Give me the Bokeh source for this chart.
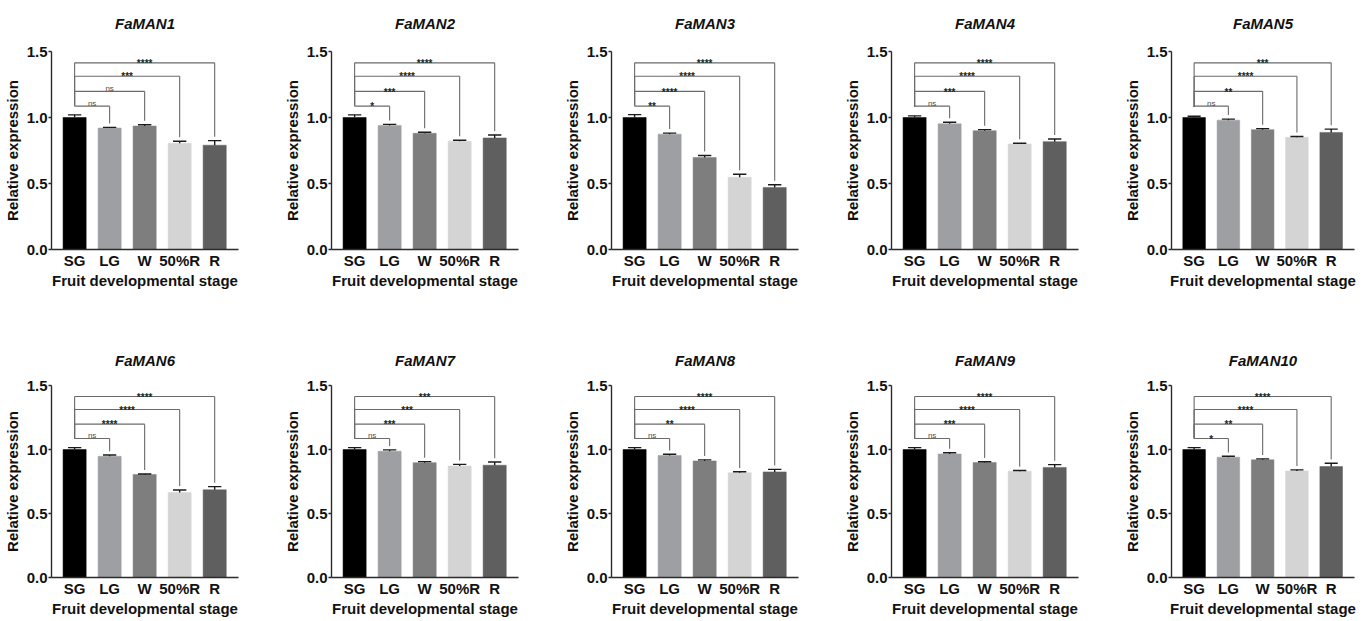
from bokeh.plotting import figure
from bokeh.layouts import row, column
from bokeh.models import FixedTicker, Range1d, PrintfTickFormatter, LinearAxis
from bokeh.core.properties import value
from bokeh.embed import file_html
from bokeh.resources import INLINE

# ---------------- data ----------------
stages = ["SG", "LG", "W", "50%R", "R"]
bar_colors = ["#000000", "#9e9fa3", "#7e7e7e", "#d4d4d4", "#5f5f5f"]
genes = ["FaMAN1", "FaMAN2", "FaMAN3", "FaMAN4", "FaMAN5",
         "FaMAN6", "FaMAN7", "FaMAN8", "FaMAN9", "FaMAN10"]

man1_mean = [1.00, 0.92, 0.935, 0.805, 0.79]
man1_err = [0.02, 0.005, 0.01, 0.015, 0.035]
man1_sig = ["ns", "ns", "***", "****"]

man2_mean = [1.00, 0.94, 0.88, 0.82, 0.845]
man2_err = [0.02, 0.008, 0.008, 0.008, 0.022]
man2_sig = ["*", "***", "****", "****"]

man3_mean = [1.00, 0.874, 0.697, 0.548, 0.47]
man3_err = [0.022, 0.008, 0.015, 0.022, 0.02]
man3_sig = ["**", "****", "****", "****"]

man4_mean = [1.00, 0.952, 0.90, 0.80, 0.817]
man4_err = [0.012, 0.012, 0.008, 0.005, 0.02]
man4_sig = ["ns", "***", "****", "****"]

man5_mean = [1.00, 0.98, 0.908, 0.85, 0.887]
man5_err = [0.01, 0.008, 0.008, 0.006, 0.025]
man5_sig = ["ns", "**", "****", "***"]

man6_mean = [1.00, 0.947, 0.805, 0.664, 0.685]
man6_err = [0.015, 0.01, 0.004, 0.02, 0.025]
man6_sig = ["ns", "****", "****", "****"]

man7_mean = [1.00, 0.987, 0.897, 0.872, 0.877]
man7_err = [0.015, 0.01, 0.008, 0.012, 0.025]
man7_sig = ["ns", "***", "***", "***"]

man8_mean = [1.00, 0.953, 0.911, 0.818, 0.825]
man8_err = [0.015, 0.01, 0.008, 0.008, 0.02]
man8_sig = ["ns", "**", "****", "****"]

man9_mean = [1.00, 0.965, 0.898, 0.83, 0.86]
man9_err = [0.015, 0.01, 0.006, 0.006, 0.022]
man9_sig = ["ns", "***", "****", "****"]

man10_mean = [1.00, 0.94, 0.919, 0.833, 0.867]
man10_err = [0.015, 0.007, 0.008, 0.008, 0.025]
man10_sig = ["*", "**", "****", "****"]

all_means = [man1_mean, man2_mean, man3_mean, man4_mean, man5_mean,
             man6_mean, man7_mean, man8_mean, man9_mean, man10_mean]
all_errs = [man1_err, man2_err, man3_err, man4_err, man5_err,
            man6_err, man7_err, man8_err, man9_err, man10_err]
all_sigs = [man1_sig, man2_sig, man3_sig, man4_sig, man5_sig,
            man6_sig, man7_sig, man8_sig, man9_sig, man10_sig]

# ---------------- style / layout ----------------
FONT = "Liberation Sans"
bracket_levels = [1.086, 1.198, 1.313, 1.414]
AXIS_COLOR = "#2b2b2b"
BAR_W = 0.66
CAP_W = 0.38
X0, X1 = -0.66, 4.68
COL_W = [280, 280, 280, 280, 236]
LEFT_B = 48


def make_panel(idx, top_row):
    gene = genes[idx]
    means = all_means[idx]
    errs = all_errs[idx]
    sigs = all_sigs[idx]
    xs = list(range(len(stages)))
    col = idx % 5
    w = COL_W[col]
    right_b = 2 if col == 4 else 42
    if top_row:
        h, mb_top, mb_bot, title_gap = 339, 51, 90, 20
    else:
        h, mb_top, mb_bot, title_gap = 280, 46, 40, 17
    p = figure(width=w, height=h,
               x_range=Range1d(X0, X1), y_range=Range1d(0, 1.5),
               output_backend="svg", toolbar_location=None,
               min_border_left=LEFT_B, min_border_right=right_b,
               min_border_top=mb_top, min_border_bottom=mb_bot)
    p.outline_line_color = None
    p.grid.visible = False
    p.background_fill_color = "white"
    p.border_fill_color = "white"

    # gene name (as an untick'd axis label above the frame)
    ta = LinearAxis(ticker=FixedTicker(ticks=[]))
    ta.axis_label = gene
    ta.axis_label_text_font = FONT
    ta.axis_label_text_font_size = "15px"
    ta.axis_label_text_font_style = "bold italic"
    ta.axis_label_text_color = "#111111"
    ta.axis_label_standoff = title_gap
    ta.axis_line_color = None
    ta.major_tick_line_color = None
    ta.minor_tick_line_color = None
    ta.major_tick_out = 0
    ta.major_tick_in = 0
    ta.minor_tick_out = 0
    ta.minor_tick_in = 0
    ta.major_label_standoff = 0
    p.add_layout(ta, "above")

    # bars
    p.vbar(x=xs, top=means, width=BAR_W, bottom=0, fill_color=bar_colors,
           line_color=bar_colors, line_width=0.5)

    # error bars (upper only)
    tops = [m + e for m, e in zip(means, errs)]
    p.segment(x0=xs, y0=means, x1=xs, y1=tops, line_color="#1a1a1a", line_width=1.4)
    p.segment(x0=[x - CAP_W / 2 for x in xs], y0=tops,
              x1=[x + CAP_W / 2 for x in xs], y1=tops,
              line_color="#1a1a1a", line_width=1.4)

    # significance brackets (SG vs each stage)
    left_end = tops[0] + 0.07
    bx0, by0, bx1, by1 = [], [], [], []
    for j, lev in enumerate(bracket_levels):
        tx = xs[j + 1]
        right_end = min(lev - 0.03, tops[j + 1] + 0.03)
        bx0.append(xs[0]); by0.append(left_end); bx1.append(xs[0]); by1.append(lev)
        bx0.append(xs[0]); by0.append(lev); bx1.append(tx); by1.append(lev)
        bx0.append(tx); by0.append(lev); bx1.append(tx); by1.append(right_end)
    p.segment(x0=bx0, y0=by0, x1=bx1, y1=by1, line_color="#6a6a6a", line_width=1.1)

    star_x, star_y, star_t = [], [], []
    ns_x, ns_y = [], []
    for j, lev in enumerate(bracket_levels):
        mid = (xs[0] + xs[j + 1]) / 2
        if sigs[j] == "ns":
            ns_x.append(mid); ns_y.append(lev + 0.022)
        else:
            star_x.append(mid); star_y.append(lev - 0.006); star_t.append(sigs[j])
    if star_x:
        p.text(x=star_x, y=star_y, text=star_t, text_font=value(FONT),
               text_font_size=value("10px"), text_font_style="bold",
               text_color="#222222", text_align="center",
               text_baseline="alphabetic")
    if ns_x:
        p.text(x=ns_x, y=ns_y, text=["ns"] * len(ns_x), text_font=value(FONT),
               text_font_size=value("8px"), text_color="#4d4d4d",
               text_align="center", text_baseline="alphabetic")

    # y axis
    ya = p.yaxis[0]
    ya.ticker = FixedTicker(ticks=[0.0, 0.5, 1.0, 1.5])
    ya.formatter = PrintfTickFormatter(format="%.1f")
    ya.axis_label = "Relative expression"
    ya.axis_label_text_font = FONT
    ya.axis_label_text_font_size = "15px"
    ya.axis_label_text_font_style = "bold"
    ya.axis_label_text_color = "#111111"
    ya.axis_label_standoff = 3
    ya.major_label_text_font = FONT
    ya.major_label_text_font_size = "15px"
    ya.major_label_text_font_style = "bold"
    ya.major_label_text_color = "#111111"
    ya.major_label_standoff = 1
    ya.major_tick_out = 3
    ya.major_tick_in = 0
    ya.minor_tick_out = 0
    ya.minor_tick_in = 0
    ya.axis_line_color = AXIS_COLOR
    ya.axis_line_width = 1.4
    ya.major_tick_line_color = AXIS_COLOR
    ya.major_tick_line_width = 1.4

    # x axis
    xa = p.below[0]
    xa.ticker = FixedTicker(ticks=xs)
    xa.major_label_overrides = {i: s for i, s in enumerate(stages)}
    xa.axis_label = "Fruit developmental stage"
    xa.axis_label_text_font = FONT
    xa.axis_label_text_font_size = "15px"
    xa.axis_label_text_font_style = "bold"
    xa.axis_label_text_color = "#111111"
    xa.axis_label_standoff = 0
    xa.major_label_text_font = FONT
    xa.major_label_text_font_size = "15px"
    xa.major_label_text_font_style = "bold"
    xa.major_label_text_color = "#111111"
    xa.major_label_standoff = 2
    xa.major_tick_out = 0
    xa.major_tick_in = 0
    xa.minor_tick_out = 0
    xa.minor_tick_in = 0
    xa.axis_line_color = AXIS_COLOR
    xa.axis_line_width = 1.4
    return p


top = [make_panel(i, True) for i in range(5)]
bottom = [make_panel(i, False) for i in range(5, 10)]
layout = column(row(*top), row(*bottom))

open("out.html", "w").write(file_html(layout, INLINE))
